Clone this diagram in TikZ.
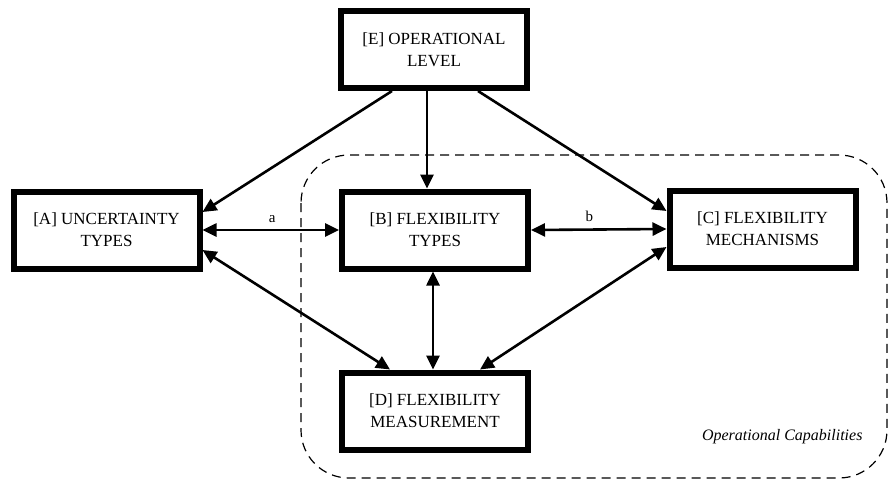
\documentclass[tikz,border=0pt]{standalone}
\usepackage{fontspec}
\setmainfont{Liberation Serif}
\usetikzlibrary{arrows.meta}
\begin{document}
\begin{tikzpicture}[x=1pt,y=-1pt,
  box/.style={draw,line width=6pt,minimum width=186pt,minimum height=77pt,align=center,
    font=\fontsize{17}{22}\selectfont,inner sep=0pt},
  arr/.style={line width=2.6pt,-{Triangle[length=14pt,width=13pt]}},
  darr/.style={line width=2.6pt,{Triangle[length=14pt,width=13pt]}-{Triangle[length=14pt,width=13pt]}},
  lab/.style={font=\fontsize{15}{18}\selectfont}]
\useasboundingbox (0,0) rectangle (893,483);
\draw[dashed,line width=1.2pt,dash pattern=on 9pt off 6pt,rounded corners=48pt] (301,155) rectangle (887,478);
\node[box] (E) at (434,49.5) {[E] OPERATIONAL\\LEVEL};
\node[box] (A) at (106.5,230) {[A] UNCERTAINTY\\TYPES};
\node[box] (B) at (435,230) {[B] FLEXIBILITY\\TYPES};
\node[box] (C) at (762.5,229) {[C] FLEXIBILITY\\MECHANISMS};
\node[box] (D) at (435,411) {[D] FLEXIBILITY\\MEASUREMENT};
\node[font=\fontsize{16}{20}\selectfont\itshape,anchor=east] (cap) at (866,437) {Operational Capabilities};
\draw[arr] ([xshift=-42pt]E.south) -- ([yshift=18pt]A.east);
\draw[arr] ([xshift=-7pt]E.south) -- ([xshift=-8pt]B.north);
\draw[arr] ([xshift=44pt]E.south) -- ([yshift=18pt]C.west);
\draw[darr] (A.east) -- node[lab,above=3pt,pos=0.51] (la) {a} (B.west);
\draw[darr] (B.east) -- node[lab,above=3pt,pos=0.43] (lb) {b} (C.west);
\draw[darr] ([yshift=-20pt]A.east) -- ([xshift=-45pt]D.north);
\draw[darr] ([xshift=-2pt]B.south) -- ([xshift=-2pt]D.north);
\draw[darr] ([yshift=-18pt]C.west) -- ([xshift=45pt]D.north);
\end{tikzpicture}
\end{document}
